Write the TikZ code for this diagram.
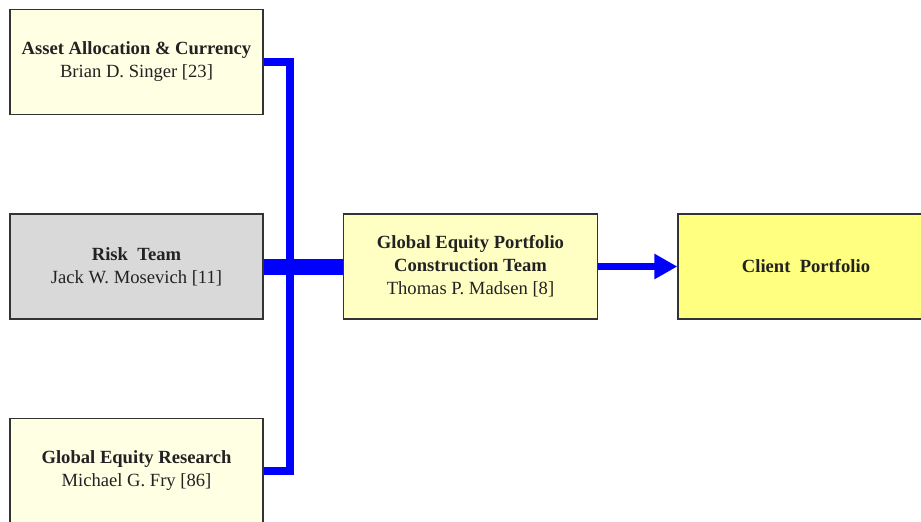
\documentclass[tikz,border=0pt]{standalone}
\usepackage{fontspec}
\setmainfont{Liberation Serif}
\usetikzlibrary{arrows.meta}
\definecolor{inkgray}{HTML}{222222}
\definecolor{edgegray}{HTML}{333333}
\definecolor{paleyellow}{HTML}{FFFFE4}
\definecolor{softyellow}{HTML}{FFFFC4}
\definecolor{brightyellow}{HTML}{FFFF80}
\definecolor{riskgray}{HTML}{D9D9D9}
\definecolor{busblue}{HTML}{0000FF}
\tikzset{
  team/.style={draw=edgegray, line width=1.3pt, minimum width=253pt, minimum height=105pt,
    inner sep=0pt, align=center, text=inkgray, font=\fontsize{18.6}{23}\selectfont},
  bus/.style={draw=busblue, line width=8pt},
}
\begin{document}
\begin{tikzpicture}[x=1pt,y=-1pt]
\useasboundingbox (0,0) rectangle (921,522);
\clip (0,0) rectangle (921,522);
% source teams
\node[team, fill=paleyellow] (asset) at (136.5,62)
  {\textbf{Asset Allocation \& Currency}\\Brian D. Singer [23]};
\node[team, fill=riskgray] (risk) at (136.5,266.5)
  {\textbf{Risk\ \ Team}\\Jack W. Mosevich [11]};
\node[team, fill=paleyellow] (research) at (136.5,471)
  {\textbf{Global Equity Research}\\Michael G. Fry [86]};
% portfolio construction and client
\node[team, fill=softyellow, minimum width=254pt] (portfolio) at (470.5,266.5)
  {\textbf{Global Equity Portfolio}\\\textbf{Construction Team}\\Thomas P. Madsen [8]};
\node[team, fill=brightyellow, minimum width=256pt] (client) at (806,266.5)
  {\textbf{Client\ \ Portfolio}};
% connectors
\coordinate (jn) at (290,266.5);
\draw[bus] (asset.east) -| (jn) |- (research.east);
\draw[draw=busblue, line width=16pt] (risk.east) -- (portfolio.west);
\draw[draw=busblue, line width=7pt, -{Triangle[length=23pt,width=24pt]}]
  (portfolio.east) -- (client.west);
\end{tikzpicture}
\end{document}
